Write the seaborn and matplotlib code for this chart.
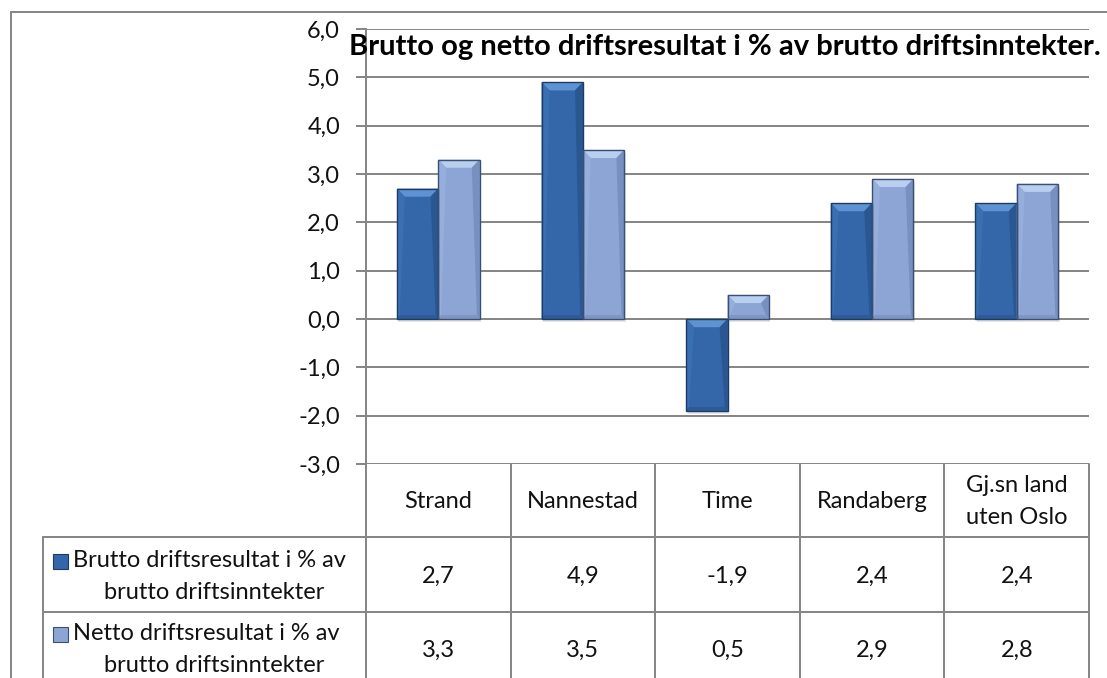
import matplotlib
matplotlib.use("Agg")
import matplotlib.pyplot as plt
import matplotlib.transforms as mtransforms
from matplotlib.patches import Polygon, Rectangle
from matplotlib.lines import Line2D
import seaborn as sns
import pandas as pd

# ---------------- data ----------------
categories = ["Strand", "Nannestad", "Time", "Randaberg", "Gj.sn land\nuten Oslo"]
series_names = ["Brutto driftsresultat i % av\nbrutto driftsinntekter",
                "Netto driftsresultat i % av\nbrutto driftsinntekter"]
brutto = [2.7, 4.9, -1.9, 2.4, 2.4]
netto = [3.3, 3.5, 0.5, 2.9, 2.8]
y_ticks = [-3, -2, -1, 0, 1, 2, 3, 4, 5, 6]
title = "Brutto og netto driftsresultat i % av brutto driftsinntekter."

colors = ["#3467A9", "#8CA5D4"]
top_colors = ["#5E92D2", "#B9CFF0"]
left_colors = ["#3A6FB2", "#95AEDB"]
right_colors = ["#2A5792", "#7890BF"]
bottom_colors = ["#2D5B98", "#7E96C4"]
edge_colors = ["#1E3B66", "#3C4F73"]

df = pd.DataFrame({
    "cat": categories * 2,
    "series": [series_names[0]] * 5 + [series_names[1]] * 5,
    "val": brutto + netto,
})

sns.set_theme(style="white")
plt.rcParams["font.family"] = ["Lato", "DejaVu Sans"]

W, H = 1107, 678
fig = plt.figure(figsize=(W / 100, H / 100), dpi=100)
PX = 72 / 100  # points per pixel

def fx(x):
    return x / W

def fy(y):
    return 1 - y / H

ax_left, ax_right, ax_top, ax_bot = 366, 1089, 29, 464
ax = fig.add_axes([fx(ax_left), fy(ax_bot), fx(ax_right) - fx(ax_left), fy(ax_top) - fy(ax_bot)])

gray = "#878787"
txt = "#111111"
FS = 17
LW = 2 * PX

sns.barplot(data=df, x="cat", y="val", hue="series", palette=colors,
            width=0.572, gap=0, ax=ax, legend=False, saturation=1,
            edgecolor="none", linewidth=0, zorder=3)

ax.set_xlim(-0.5, 4.5)
ax.set_ylim(-3, 6)
ax.set_yticks(y_ticks)
ax.set_yticklabels([f"{v:.1f}".replace(".", ",") for v in y_ticks], fontsize=FS, color=txt)
ax.set_xticks([])
ax.set_xlabel("")
ax.set_ylabel("")
ax.yaxis.grid(True, color=gray, linewidth=LW, zorder=0)
ax.set_axisbelow(True)
for s in ["top", "right", "bottom"]:
    ax.spines[s].set_visible(False)
ax.spines["left"].set_color(gray)
ax.spines["left"].set_linewidth(LW)
ax.tick_params(axis="y", length=10 * PX, width=LW, color=gray, pad=16 * PX, left=True)

# bevel decoration for each bar (geometry from the library's patches)
bar_patches = list(ax.patches)
for i, p in enumerate(bar_patches):
    s = 0 if i < len(categories) else 1
    x0 = p.get_x()
    w = p.get_width()
    x1 = x0 + w
    yt = max(p.get_y(), p.get_y() + p.get_height())
    yb = min(p.get_y(), p.get_y() + p.get_height())
    bx = 0.19 * w
    by = min(0.17, (yt - yb) / 2)
    sb = 0.08
    # soft shadow
    ax.add_patch(Rectangle((x0 + 0.01, yb - 0.07), w, yt - yb, facecolor="#000000",
                           alpha=0.10, edgecolor="none", zorder=2.5))
    polys = [
        ([(x0, yt), (x1, yt), (x1 - bx, yt - by), (x0 + bx, yt - by)], top_colors[s]),
        ([(x0, yt), (x0 + bx, yt - by), (x0 + bx * 0.35, yb + sb), (x0, yb)], left_colors[s]),
        ([(x1, yt), (x1 - bx, yt - by), (x1 - bx * 0.35, yb + sb), (x1, yb)], right_colors[s]),
        ([(x0, yb), (x0 + bx * 0.35, yb + sb), (x1 - bx * 0.35, yb + sb), (x1, yb)], bottom_colors[s]),
    ]
    for pts, c in polys:
        ax.add_patch(Polygon(pts, closed=True, facecolor=c, edgecolor="none", zorder=4))
    ax.add_patch(Rectangle((x0, yb), w, yt - yb, facecolor="none",
                           edgecolor=edge_colors[s], linewidth=1.0, zorder=5))

# title
fig.text(fx(725), fy(55), title, ha="center", va="baseline", fontsize=21,
         fontweight="bold", color="#000000")

# outer chart border
fig.add_artist(Line2D([fx(11), fx(11)], [fy(12), fy(H + 5)], transform=fig.transFigure, color=gray, lw=LW))
fig.add_artist(Line2D([fx(11), fx(W + 5)], [fy(12), fy(12)], transform=fig.transFigure, color=gray, lw=LW))

# data table
blend = mtransforms.blended_transform_factory(ax.transData, fig.transFigure)
for k in range(len(categories) + 1):
    xb = k - 0.5
    fig.add_artist(Line2D([xb, xb], [fy(ax_bot), fy(H + 5)], transform=blend, color=gray, lw=LW))
fig.add_artist(Line2D([fx(43), fx(43)], [fy(537), fy(H + 5)], transform=fig.transFigure, color=gray, lw=LW))
for yl in [537, 612]:
    fig.add_artist(Line2D([fx(43), fx(ax_right)], [fy(yl), fy(yl)], transform=fig.transFigure, color=gray, lw=LW))

# category header
for i, c in enumerate(categories):
    lines = c.split("\n")
    n = len(lines)
    for j, line in enumerate(lines):
        yc = 500 + (j - (n - 1) / 2) * 32
        fig.text(i, fy(yc), line, transform=blend, ha="center", va="center_baseline",
                 fontsize=FS, color=txt)

# value rows + legend
value_baselines = [583, 657]
legend_baselines = [567, 640]
for r, (vals, name) in enumerate(zip([brutto, netto], series_names)):
    for i, v in enumerate(vals):
        fig.text(i, fy(value_baselines[r]), f"{v:.1f}".replace(".", ","), transform=blend,
                 ha="center", va="baseline", fontsize=FS, color=txt)
    l1, l2 = name.split("\n")
    b = legend_baselines[r]
    fig.text(fx(73), fy(b), l1, ha="left", va="baseline", fontsize=FS, color=txt)
    fig.text(fx(214), fy(b + 32), l2, ha="center", va="baseline", fontsize=FS, color=txt)
    # legend key
    fig.add_artist(Rectangle((fx(53), fy(b + 2)), fx(15), fy(0) - fy(15),
                             transform=fig.transFigure, facecolor=colors[r],
                             edgecolor=edge_colors[r], lw=0.8))

fig.savefig("out.png", dpi=100)
